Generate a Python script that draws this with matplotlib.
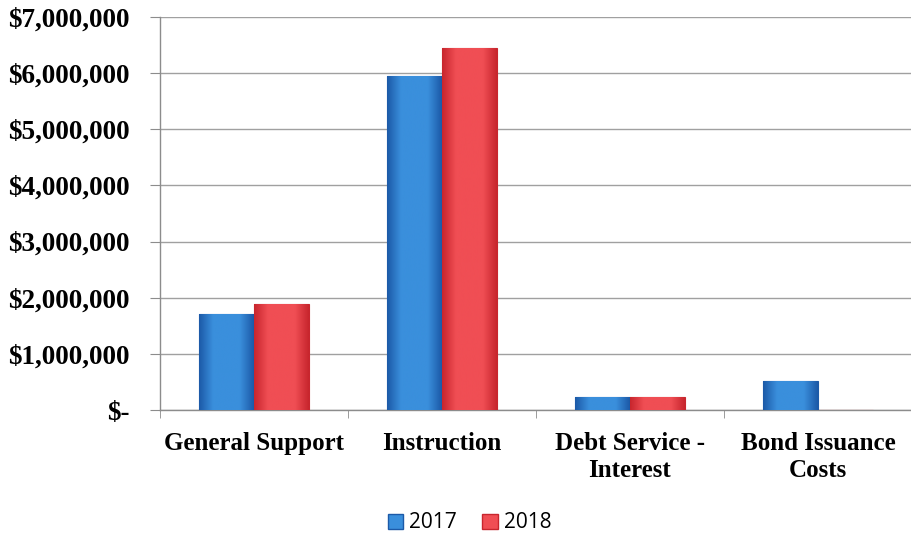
import matplotlib
matplotlib.use("Agg")
import matplotlib.pyplot as plt
import numpy as np
from matplotlib.colors import LinearSegmentedColormap
from matplotlib.ticker import FuncFormatter, FixedLocator
from matplotlib.patches import Patch

categories = ["General Support", "Instruction", "Debt Service -\nInterest", "Bond Issuance\nCosts"]
series_names = ["2017", "2018"]
values_2017 = [1710000, 5950000, 230000, 520000]
values_2018 = [1890000, 6450000, 230000, 0]
yticks = [0, 1000000, 2000000, 3000000, 4000000, 5000000, 6000000, 7000000]

fig = plt.figure(figsize=(9.12, 5.39), dpi=100)
ax = fig.add_axes([160/912, (539-410)/539, (912-160)/912, (410-17)/539])

x = np.arange(len(categories))
w = 0.29
cols = {"2017": ("#1c5aa8", "#3a8fdc"), "2018": ("#c8262e", "#f04e54")}
for i, (name, vals) in enumerate(zip(series_names, [values_2017, values_2018])):
    off = (i - 0.5) * w
    dark, light = cols[name]
    bars = ax.bar(x + off, vals, width=w, color=light, edgecolor=dark, linewidth=0.8,
                  label=name, zorder=3)
    cmap = LinearSegmentedColormap.from_list(name, [dark, light, light, light, dark])
    grad = np.linspace(0, 1, 64).reshape(1, -1)
    for b in bars:
        if b.get_height() <= 0:
            continue
        bx, by = b.get_x(), b.get_y()
        bw, bh = b.get_width(), b.get_height()
        im = ax.imshow(grad, cmap=cmap, aspect="auto", extent=[bx, bx + bw, by, by + bh],
                       zorder=3.5, interpolation="bicubic")
        im.set_clip_path(b)

ax.set_xlim(-0.5, len(categories) - 0.5)
ax.set_ylim(0, 7000000)
ax.yaxis.set_major_locator(FixedLocator(yticks))
ax.yaxis.set_major_formatter(FuncFormatter(lambda v, p: "$-" if v == 0 else "${:,.0f}".format(v)))
ax.grid(axis="y", color="#a0a0a0", linewidth=1.0, zorder=0)
ax.set_axisbelow(True)

for s in ["top", "right"]:
    ax.spines[s].set_visible(False)
for s in ["left", "bottom"]:
    ax.spines[s].set_color("#8c8c8c")
    ax.spines[s].set_linewidth(1.0)

ax.set_xticks(x)
ax.set_xticklabels(categories, fontfamily="Liberation Serif", fontweight="bold", fontsize=18,
                   linespacing=1.2)
ax.tick_params(axis="x", length=0, pad=16)
ax.set_xticks(np.arange(-0.5, len(categories) + 0.5, 1), minor=True)
ax.tick_params(axis="x", which="minor", length=6, color="#8c8c8c")
ax.tick_params(axis="y", length=7, color="#8c8c8c", pad=15)
for lbl in ax.get_yticklabels():
    lbl.set_fontfamily("Liberation Serif")
    lbl.set_fontweight("bold")
    lbl.set_fontsize(19.5)

handles = [Patch(facecolor=cols[n][1], edgecolor=cols[n][0]) for n in series_names]
fig.legend(handles, series_names, loc="center", bbox_to_anchor=(0.515, 1 - 523/539), ncol=2,
           frameon=False, prop={"family": "Open Sans", "size": 15}, handlelength=0.75,
           handleheight=0.75, handletextpad=0.3, columnspacing=1.2)

fig.savefig("out.png", dpi=100)
